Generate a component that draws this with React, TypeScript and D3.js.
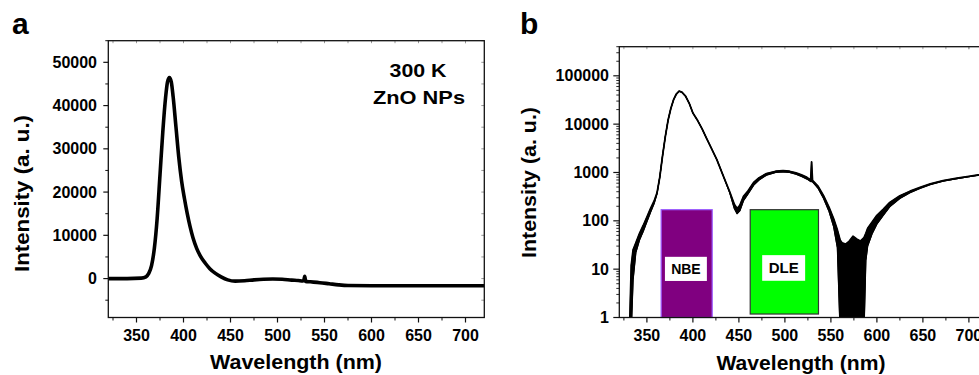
import * as d3 from 'd3';
import React from 'react';

// panel a: linear PL spectrum at 300 K
const aWavelength = [320, 340, 355, 360, 363, 366, 369, 372, 375, 378, 381, 383, 385, 387, 389, 392, 395, 398, 401, 404, 407, 410, 414, 418, 423, 428, 434, 440, 447, 455, 465, 475, 485, 495, 505, 515, 522, 527, 528, 529, 530, 535, 545, 555, 565, 575, 600, 650, 720];
const aIntensity = [0, 0, 100, 400, 1200, 3000, 7000, 14000, 24000, 34000, 42000, 45500, 46500, 45500, 42000, 35000, 28000, 22500, 18500, 15000, 12000, 9500, 7000, 5200, 3600, 2300, 1200, 400, -300, -600, -500, -300, -150, -100, -150, -350, -450, -550, -350, 500, -650, -750, -950, -1200, -1450, -1600, -1650, -1650, -1650];

// panel b: same spectrum on log scale, upper / lower edge of the noisy trace
const bWavelength = [330, 331.5, 333, 335, 338, 342, 346, 350, 354, 358, 361, 364, 367, 370, 373, 376, 379, 382, 385, 388, 392, 396, 400, 405, 410, 415, 420, 426, 433, 440, 445, 448, 451, 455, 460, 466, 472, 480, 490, 498, 505, 512, 518, 524, 528, 529, 530, 536, 542, 548, 553, 557, 560, 562, 566, 570, 574, 578, 582, 586, 588, 590, 595, 600, 607, 614, 625, 636, 647, 658, 672, 687, 700, 710, 720];
const bHigh = [0.5, 1, 12, 25, 35, 55, 80, 120, 180, 260, 380, 800, 2200, 5500, 12000, 21000, 32000, 42000, 48000, 46000, 38000, 27000, 17000, 12000, 8000, 5000, 3200, 1850, 850, 400, 220, 180, 210, 320, 420, 620, 780, 950, 1060, 1090, 1060, 980, 890, 790, 700, 1650, 690, 520, 330, 190, 110, 65, 40, 35, 33, 38, 48, 42, 38, 45, 55, 70, 95, 130, 175, 240, 330, 410, 490, 580, 680, 760, 830, 890, 940];
const bLow = [0.5, 0.5, 0.5, 6, 22, 40, 60, 95, 150, 230, 360, 800, 2200, 5500, 12000, 21000, 32000, 42000, 48000, 46000, 38000, 27000, 17000, 12000, 8000, 5000, 3200, 1850, 850, 380, 180, 140, 160, 260, 360, 540, 700, 880, 1000, 1030, 1000, 920, 830, 730, 650, 650, 640, 470, 290, 155, 75, 28, 0.5, 0.5, 0.5, 0.5, 0.5, 0.5, 0.5, 0.5, 15, 30, 55, 85, 130, 195, 290, 380, 470, 560, 660, 745, 815, 875, 925];

// emission band markers [from, to] in nm
const bands = [
  { name: 'NBE', from: 365.5, to: 421, top: 170, bottom: 1, fill: '#800080', stroke: '#9b5cff', box: [369.6, 415.2, 18, 5.7], size: 14 },
  { name: 'DLE', from: 462.3, to: 536.5, top: 170, bottom: 1.18, fill: '#00ff00', stroke: '#333333', box: [475.3, 522, 19.5, 5.75], size: 15 },
];

const xTicks = [350, 400, 450, 500, 550, 600, 650, 700];
const xMinor = [325, 375, 425, 475, 525, 575, 625, 675, 700, 725];
const aYTicks = [0, 10000, 20000, 30000, 40000, 50000];
const aYMinor = [-5000, 5000, 15000, 25000, 35000, 45000, 55000];
const bYTicks = [1, 10, 100, 1000, 10000, 100000];

const font = 'Liberation Sans, Arial, Helvetica, sans-serif';

const App = () => {
  const xA = d3.scaleLinear().domain([320, 720]).range([108.3, 484.3]);
  const yA = d3.scaleLinear().domain([-9000, 55000]).range([317.5, 40.7]);
  const xB = d3.scaleLinear().domain([320, 720]).range([619.3, 987.3]);
  const yB = d3.scaleLog().domain([1, 4e5]).range([317.5, 46.7]);

  const lineA = d3.line<number>()
    .x((d, i) => xA(aWavelength[i]))
    .y((d) => yA(d))
    .curve(d3.curveMonotoneX);

  const lineB = d3.line<number>()
    .x((d, i) => xB(bWavelength[i]))
    .y((d) => yB(d));
  const areaB = d3.area<number>()
    .x((d, i) => xB(bWavelength[i]))
    .y0((d, i) => yB(bLow[i]))
    .y1((d) => yB(d));

  const bMinor: number[] = [];
  for (let e = 0; e <= 5; e++) {
    for (let k = 2; k <= 9; k++) {
      const v = k * Math.pow(10, e);
      if (v <= 4e5) bMinor.push(v);
    }
  }

  const [ax0, ax1] = xA.range();
  const [ay0, ay1] = yA.range();
  const [bx0, bx1] = xB.range();
  const [by0, by1] = yB.range();

  return (
    <svg width={979} height={375} style={{ position: 'absolute', left: 0, top: 0, background: '#fff' }} fontFamily={font} fontWeight="bold">
      <defs>
        <clipPath id="clipA"><rect x={ax0} y={ay1} width={ax1 - ax0} height={ay0 - ay1} /></clipPath>
        <clipPath id="clipB"><rect x={bx0} y={by1} width={bx1 - bx0} height={by0 - by1} /></clipPath>
      </defs>

      {/* panel a */}
      <text x={12} y={34} fontSize={30}>a</text>
      {xMinor.filter((v) => v < 720).map((v) => (
        <line key={'atm' + v} x1={xA(v)} x2={xA(v)} y1={ay1} y2={ay1 + 2.5} stroke="#999" strokeWidth={1} />
      ))}
      {xTicks.map((v) => (
        <line key={'att' + v} x1={xA(v)} x2={xA(v)} y1={ay1} y2={ay1 + 2.5} stroke="#999" strokeWidth={1} />
      ))}
      {aYTicks.concat(aYMinor).map((v) => (
        <line key={'art' + v} x1={ax1} x2={ax1 - 3} y1={yA(v)} y2={yA(v)} stroke="#999" strokeWidth={1} />
      ))}
      <g clipPath="url(#clipA)">
        <path d={lineA(aIntensity) || ''} fill="none" stroke="#000" strokeWidth={3.6} strokeLinejoin="round" strokeLinecap="round" />
      </g>
      <rect x={ax0} y={ay1} width={ax1 - ax0} height={ay0 - ay1} fill="none" stroke="#111" strokeWidth={1.3} />
      {xTicks.map((v) => (
        <g key={'ax' + v}>
          <line x1={xA(v)} x2={xA(v)} y1={ay0} y2={ay0 + 5} stroke="#111" strokeWidth={1.2} />
          <text x={xA(v)} y={341} fontSize={16} textAnchor="middle">{v}</text>
        </g>
      ))}
      {xMinor.filter((v) => !xTicks.includes(v) && v < 720).map((v) => (
        <line key={'axm' + v} x1={xA(v)} x2={xA(v)} y1={ay0} y2={ay0 + 3} stroke="#111" strokeWidth={1} />
      ))}
      {aYTicks.map((v) => (
        <g key={'ay' + v}>
          <line x1={ax0} x2={ax0 - 5} y1={yA(v)} y2={yA(v)} stroke="#111" strokeWidth={1.2} />
          <text x={97} y={yA(v) + 5.6} fontSize={16} textAnchor="end">{v}</text>
        </g>
      ))}
      {aYMinor.map((v) => (
        <line key={'aym' + v} x1={ax0} x2={ax0 - 3} y1={yA(v)} y2={yA(v)} stroke="#111" strokeWidth={1} />
      ))}
      <text x={296} y={369} fontSize={20} textAnchor="middle" textLength={172} lengthAdjust="spacingAndGlyphs">Wavelength (nm)</text>
      <text transform="translate(29,193.5) rotate(-90)" fontSize={20} textAnchor="middle" textLength={157} lengthAdjust="spacingAndGlyphs">Intensity (a. u.)</text>
      <text x={418} y={77} fontSize={19} textAnchor="middle" textLength={57} lengthAdjust="spacingAndGlyphs">300 K</text>
      <text x={419} y={104} fontSize={19} textAnchor="middle" textLength={92} lengthAdjust="spacingAndGlyphs">ZnO NPs</text>

      {/* panel b */}
      <text x={520} y={34} fontSize={30}>b</text>
      {xMinor.concat(xTicks).map((v) => (
        <line key={'btt' + v} x1={xB(v)} x2={xB(v)} y1={by1} y2={by1 + 2.5} stroke="#999" strokeWidth={1} />
      ))}
      {bands.map((b) => (
        <g key={b.name}>
          <rect x={xB(b.from)} y={yB(b.top)} width={xB(b.to) - xB(b.from)} height={yB(b.bottom) - yB(b.top)} fill={b.fill} stroke={b.stroke} strokeWidth={1.2} />
          <rect x={xB(b.box[0])} y={yB(b.box[2])} width={xB(b.box[1]) - xB(b.box[0])} height={yB(b.box[3]) - yB(b.box[2])} fill="#fff" />
          <text x={(xB(b.box[0]) + xB(b.box[1])) / 2} y={(yB(b.box[2]) + yB(b.box[3])) / 2 + b.size * 0.36} fontSize={b.size} textAnchor="middle">{b.name}</text>
        </g>
      ))}
      <g clipPath="url(#clipB)">
        <path d={areaB(bHigh) || ''} fill="#000" stroke="#000" strokeWidth={1} />
        <path d={lineB(bHigh) || ''} fill="none" stroke="#000" strokeWidth={1.8} strokeLinejoin="round" />
        <path d={lineB(bLow) || ''} fill="none" stroke="#000" strokeWidth={1.2} strokeLinejoin="round" />
      </g>
      <rect x={bx0} y={by1} width={bx1 - bx0} height={by0 - by1} fill="none" stroke="#111" strokeWidth={1.3} />
      {xTicks.map((v) => (
        <g key={'bx' + v}>
          <line x1={xB(v)} x2={xB(v)} y1={by0} y2={by0 + 5} stroke="#111" strokeWidth={1.2} />
          <text x={xB(v)} y={341} fontSize={16} textAnchor="middle">{v}</text>
        </g>
      ))}
      {xMinor.filter((v) => !xTicks.includes(v)).map((v) => (
        <line key={'bxm' + v} x1={xB(v)} x2={xB(v)} y1={by0} y2={by0 + 3} stroke="#111" strokeWidth={1} />
      ))}
      {bYTicks.map((v) => (
        <g key={'by' + v}>
          <line x1={bx0} x2={bx0 - 6} y1={yB(v)} y2={yB(v)} stroke="#111" strokeWidth={1.2} />
          <text x={609} y={yB(v) + 5.6} fontSize={16} textAnchor="end">{v}</text>
        </g>
      ))}
      {bMinor.map((v) => (
        <line key={'bym' + v} x1={bx0} x2={bx0 - 3} y1={yB(v)} y2={yB(v)} stroke="#111" strokeWidth={0.9} />
      ))}
      <text x={801} y={370} fontSize={20} textAnchor="middle" textLength={169} lengthAdjust="spacingAndGlyphs">Wavelength (nm)</text>
      <text transform="translate(536,182.5) rotate(-90)" fontSize={20} textAnchor="middle" textLength={151} lengthAdjust="spacingAndGlyphs">Intensity (a. u.)</text>
    </svg>
  );
};

export default App;
